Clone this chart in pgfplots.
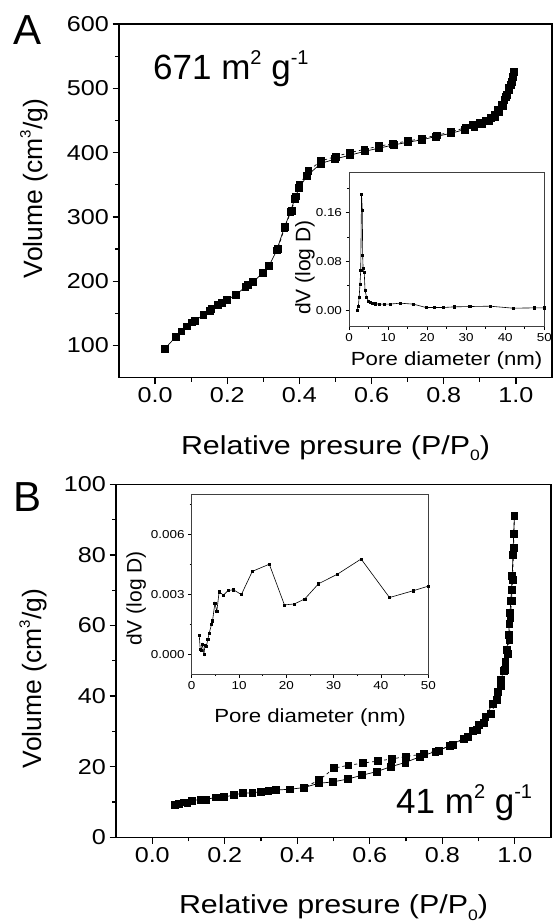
\documentclass[border=0pt]{standalone}
\usepackage{pgfplots}
\pgfplotsset{compat=1.18}
\usepackage{fontspec}
\setmainfont{Liberation Sans}
\newfontfamily\sx{Liberation Sans}[FakeStretch=1.17]
\begin{document}
\begin{tikzpicture}
\path[use as bounding box] (0pt,0pt) rectangle (553pt,-923pt);
\pgfplotsset{
  mainax/.style={
    scale only axis, anchor=south west,
    xmin=-0.1, xmax=1.1,
    xtick={0,0.2,0.4,0.6,0.8,1.0},
    minor xtick={0.1,0.3,0.5,0.7,0.9},
    tick align=outside, tick pos=left,
    major tick length=6.5pt, minor tick length=4pt,
    every tick/.style={black, line width=1.3pt},
    axis line style={line width=1.4pt},
    /pgf/number format/assume math mode=true,
    tick label style={font=\sx\fontsize{21.5}{21.5}\selectfont},
    xticklabel style={/pgf/number format/.cd, fixed, fixed zerofill, precision=1},
    every axis x label/.style={at={(axis description cs:0.5,-0.216)}, anchor=base, font=\sx\fontsize{26}{26}\selectfont},
  },
  insetax/.style={
    scale only axis, anchor=south west,
    xmin=0, xmax=50,
    xtick={0,10,20,30,40,50}, minor xtick={5,15,25,35,45},
    tick align=outside, tick pos=left,
    major tick length=3.5pt, minor tick length=2pt,
    every tick/.style={black, line width=0.7pt},
    axis line style={line width=0.8pt, black!75},
    axis background/.style={fill=white},
    scaled y ticks=false,
    /pgf/number format/assume math mode=true,
    tick label style={font=\sx\fontsize{11.5}{11.5}\selectfont},
  },
  mainline/.style={black, line width=0.7pt, mark=square*, mark size=3.4pt, mark options={solid}},
  insetline/.style={black, line width=0.6pt, mark=square*, mark size=1.1pt, mark options={solid}},
}
% ---------------- Panel A ----------------
\begin{axis}[mainax, at={(119pt,-377.7pt)}, width=433pt, height=353.7pt,
  ymin=50, ymax=600, ytick={100,200,300,400,500,600}, minor ytick={150,250,350,450,550},
  xlabel={Relative presure (P/P\raisebox{-0.25em}{\fontsize{15}{15}\selectfont 0})},
  ylabel={Volume (cm\raisebox{0.45em}{\fontsize{15}{15}\selectfont 3}/g)},
  every axis y label/.style={at={(axis description cs:-0.196,0.535)}, rotate=90, anchor=center, font=\fontsize{26.5}{26.5}\selectfont},
]
\addplot[mainline] table {
0.027 95
0.058 114
0.073 122
0.089 130
0.102 136
0.110 138
0.134 148
0.151 154
0.156 157
0.173 163
0.185 167
0.199 171
0.224 179
0.250 191
0.258 194
0.272 199
0.298 213
0.316 224
0.337 248
0.358 283
0.375 308
0.387 328
0.399 345
0.421 364
0.459 383
0.498 390
0.540 396
0.581 402
0.621 407
0.661 412
0.700 416
0.739 420
0.778 425
0.819 430
0.859 436
0.885 440
0.905 444
0.924 449
0.942 456
0.953 463
0.963 472
0.973 487
0.981 501
0.988 510
0.992 518
0.994 526
};
\addplot[mainline, dashed] table {
0.994 526
0.993 520
0.990 512
0.986 505
0.980 497
0.975 490
0.968 482
0.960 474
0.950 466
0.940 459
0.930 454
0.915 450
0.900 446
0.880 443
0.860 439
0.820 432
0.780 427
0.740 422
0.700 418
0.660 414
0.620 410
0.580 405
0.540 400
0.500 394
0.460 387
0.425 372
0.400 350
0.390 332
0.378 310
0.360 285
0.340 250
};
\end{axis}
% inset A
\begin{axis}[insetax, at={(349pt,-326.7pt)}, width=195.3pt, height=154pt,
  ymin=-0.027, ymax=0.225, ytick={0,0.08,0.16}, minor ytick={0.04,0.12,0.20},
  yticklabel style={/pgf/number format/.cd, fixed, fixed zerofill, precision=2},
  xlabel={Pore diameter (nm)}, ylabel={dV (log D)},
  every axis x label/.style={at={(axis description cs:0.5,-0.249)}, anchor=base, font=\sx\fontsize{19}{19}\selectfont},
  every axis y label/.style={at={(axis description cs:-0.225,0.384)}, rotate=90, anchor=center, font=\fontsize{21}{21}\selectfont},
]
\addplot[insetline] table {
2.1 0.000
2.4 0.007
2.6 0.021
2.8 0.042
3.0 0.065
3.2 0.190
3.4 0.164
3.5 0.090
3.6 0.069
3.9 0.062
4.1 0.033
4.5 0.021
5.0 0.015
5.5 0.013
6.1 0.0115
6.8 0.0104
7.8 0.0099
9.0 0.0099
10.5 0.0100
13.1 0.0115
16.5 0.0099
19.7 0.0044
21.9 0.0044
24.2 0.0044
27.0 0.0055
30.9 0.0060
36.1 0.0066
42.0 0.0033
47.4 0.0038
50.0 0.0038
};
\end{axis}
% ---------------- Panel B ----------------
\begin{axis}[mainax, at={(116pt,-837.3pt)}, width=435pt, height=353pt,
  ymin=0, ymax=100, ytick={0,20,40,60,80,100}, minor ytick={10,30,50,70,90},
  xlabel={Relative presure (P/P\raisebox{-0.25em}{\fontsize{15}{15}\selectfont 0})},
  ylabel={Volume (cm\raisebox{0.45em}{\fontsize{15}{15}\selectfont 3}/g)},
  every axis y label/.style={at={(axis description cs:-0.19,0.45)}, rotate=90, anchor=center, font=\fontsize{26.5}{26.5}\selectfont},
]
\addplot[mainline] table {
0.063 9.2
0.074 9.4
0.086 9.9
0.097 9.8
0.109 10.4
0.134 10.7
0.147 10.7
0.175 11.3
0.198 11.4
0.226 12.0
0.249 12.5
0.276 12.6
0.299 12.9
0.320 13.2
0.341 13.4
0.379 13.6
0.419 14.1
0.459 15.3
0.499 15.7
0.539 16.5
0.579 17.6
0.619 18.6
0.658 20.0
0.698 21.2
0.738 22.8
0.781 24.3
0.820 25.9
0.859 28.0
0.884 30.1
0.902 31.8
0.919 34.2
0.939 37.9
0.953 41.2
0.962 44.6
0.969 47.2
0.974 49.7
0.978 53.1
0.983 57.3
0.985 60.4
0.987 63.5
0.989 67
0.991 70
0.993 74
0.995 80
0.997 86
0.999 91
};
\addplot[mainline, dashed] table {
0.999 91
0.997 82
0.994 73
0.991 67
0.988 62
0.985 56
0.980 52
0.972 47.5
0.962 43
0.950 39
0.935 35
0.915 32.5
0.895 30.5
0.870 28.5
0.830 26.3
0.790 24.6
0.750 23.6
0.700 22.9
0.661 22.2
0.622 21.6
0.580 21.0
0.541 20.4
0.502 19.6
0.460 16.2
0.419 14.1
};
\end{axis}
% inset B
\begin{axis}[insetax, at={(191.7pt,-674pt)}, width=236.6pt, height=179.7pt,
  ymin=-0.001, ymax=0.008, ytick={0,0.003,0.006}, minor ytick={0.0015,0.0045,0.0075},
  yticklabel style={/pgf/number format/.cd, fixed, fixed zerofill, precision=3},
  xlabel={Pore diameter (nm)}, ylabel={dV (log D)},
  every axis x label/.style={at={(axis description cs:0.5,-0.271)}, anchor=base, font=\sx\fontsize{19}{19}\selectfont},
  every axis y label/.style={at={(axis description cs:-0.235,0.42)}, rotate=90, anchor=center, font=\fontsize{21}{21}\selectfont},
]
\addplot[insetline] table {
1.6 0.00092
1.8 0.00025
2.0 0.00020
2.25 0.00050
2.6 0.00000
2.8 0.00045
3.1 0.00037
3.4 0.00074
3.7 0.00104
4.2 0.00150
4.4 0.00166
4.9 0.00255
5.3 0.00213
5.8 0.00312
6.7 0.00295
7.7 0.00318
8.8 0.00322
10.5 0.00298
12.8 0.00414
16.4 0.00450
19.6 0.00246
21.7 0.00251
23.9 0.00276
26.8 0.00352
30.8 0.00400
35.8 0.00476
41.8 0.00283
46.8 0.00317
50.0 0.00340
};
\end{axis}
% annotations
\node[anchor=base west, font=\fontsize{42}{42}\selectfont, inner sep=0pt] at (13pt,-45pt) {A};
\node[anchor=base west, font=\fontsize{42}{42}\selectfont, inner sep=0pt] at (13pt,-511pt) {B};
\node[anchor=base west, font=\fontsize{35}{35}\selectfont, inner sep=0pt] at (153pt,-79.3pt) {671 m\raisebox{0.42em}{\fontsize{20}{20}\selectfont 2} g\raisebox{0.42em}{\fontsize{20}{20}\selectfont -1}};
\node[anchor=base west, font=\fontsize{35}{35}\selectfont, inner sep=0pt] at (396pt,-813.3pt) {41 m\raisebox{0.42em}{\fontsize{20}{20}\selectfont 2} g\raisebox{0.42em}{\fontsize{20}{20}\selectfont -1}};
\end{tikzpicture}
\end{document}
